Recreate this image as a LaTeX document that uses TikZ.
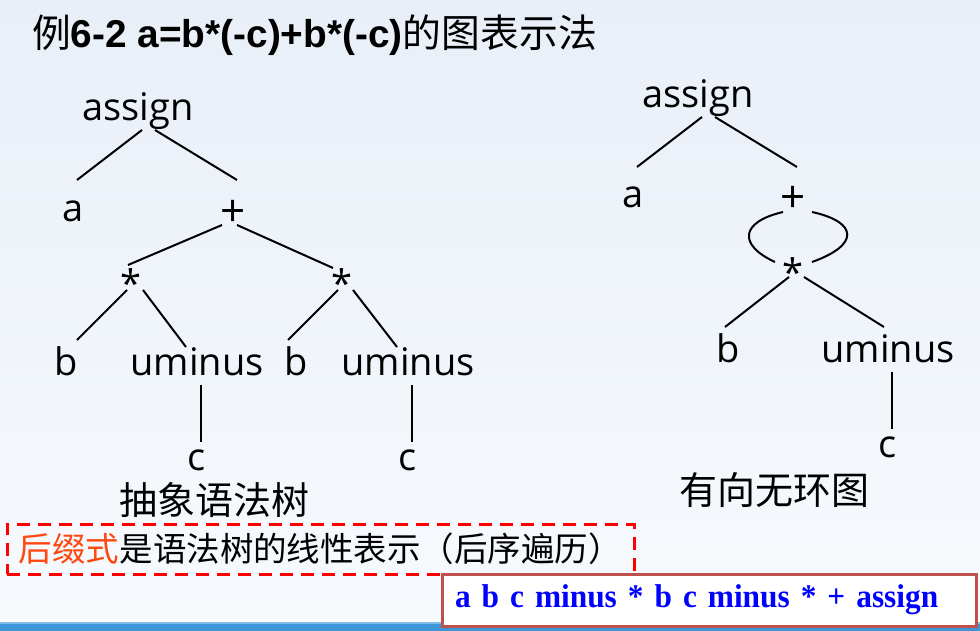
\documentclass[tikz,border=0pt]{standalone}
\usepackage{fontspec}
\setmainfont{Open Sans}
\newfontfamily\cjk{Noto Sans CJK SC}
\newfontfamily\arialbf{Liberation Sans}
\newfontfamily\timesbf{Liberation Serif}[FakeStretch=0.95]
\definecolor{bgtop}{RGB}{233,239,248}
\definecolor{bgbot}{RGB}{247,250,253}
\definecolor{stripe}{RGB}{62,150,214}
\definecolor{stripetop}{RGB}{125,188,232}
\definecolor{boxred}{RGB}{190,80,78}
\definecolor{hot}{RGB}{255,72,16}

\begin{document}
\begin{tikzpicture}[
    x = 1pt, y = -1pt, % one unit per pixel, y goes down
    line width = 2pt, % line style
    ]

    \tikzset{lbl/.style={inner sep=0pt, anchor=base, font=\fontsize{38}{40}\selectfont}}
    \tikzset{bigop/.style={lbl, font=\fontsize{44}{46}\selectfont}}
    \tikzset{treename/.style={inner sep=0pt, font=\cjk\fontsize{38}{40}\selectfont}}
    \tikzset{dashbox/.style={draw=red, line width=3pt, dash pattern=on 13pt off 8pt,
        minimum width=627pt, minimum height=50pt, inner sep=0pt,
        font=\cjk\fontsize{33.5}{36}\selectfont}}
    \tikzset{postbox/.style={draw=boxred, line width=3pt, fill=white,
        minimum width=534pt, minimum height=52pt, text width=508pt, align=left,
        inner xsep=13pt, inner ysep=0pt, text=blue,
        font=\timesbf\bfseries\fontsize{33}{35}\selectfont}}

    % slide background
    \useasboundingbox (0,0) rectangle (980,631);
    \shade[top color=bgtop, bottom color=bgbot] (0,0) rectangle (980,631);
    \fill[stripe] (0,622) rectangle (980,631);
    \fill[stripetop] (0,621.5) rectangle (980,623.5);

    \node[anchor=base west, inner sep=0pt, font=\fontsize{38.8}{40}\selectfont] (title) at (31,48)
        {{\cjk 例}{\arialbf\bfseries 6-2 a=b*(-c)+b*(-c)}{\cjk 的图表示法}};

    % syntax tree
    \node[lbl] (as1) at (138,121) {assign};
    \node[lbl] (a1) at (73,222) {a};
    \node[bigop] (p1) at (233,226) {+};
    \node[lbl] (m1) at (131,297) {*};
    \node[lbl] (m2) at (342,297) {*};
    \node[lbl] (b1) at (66,375) {b};
    \node[lbl] (u1) at (197,375) {uminus};
    \node[lbl] (b2) at (296,375) {b};
    \node[lbl] (u2) at (408,375) {uminus};
    \node[lbl] (c1) at (197,470) {c};
    \node[lbl] (c2) at (408,470) {c};
    \node[treename] (t1) at (214,500) {抽象语法树};

    \draw ([xshift=4pt,yshift=-9pt]as1.base) -- ([xshift=4pt,yshift=42pt]a1.base);
    \draw ([xshift=17pt,yshift=-9pt]as1.base) -- ([xshift=4pt,yshift=46pt]p1.base);
    \draw ([xshift=-11pt,yshift=1pt]p1.base) -- ([xshift=-3pt,yshift=32pt]m1.base);
    \draw ([xshift=4pt,yshift=1pt]p1.base) -- ([xshift=-9pt,yshift=29pt]m2.base);
    \draw ([xshift=-4pt,yshift=7pt]m1.base) -- ([xshift=11pt,yshift=35pt]b1.base);
    \draw ([xshift=12pt,yshift=7pt]m1.base) -- ([xshift=-11pt,yshift=28pt]u1.base);
    \draw ([xshift=-4pt,yshift=7pt]m2.base) -- ([xshift=-8pt,yshift=35pt]b2.base);
    \draw ([xshift=11pt,yshift=7pt]m2.base) -- ([xshift=-11pt,yshift=28pt]u2.base);
    \draw ([xshift=4pt,yshift=-10pt]u1.base) -- ([xshift=4pt,yshift=28pt]c1.base);
    \draw ([xshift=4pt,yshift=-10pt]u2.base) -- ([xshift=4pt,yshift=28pt]c2.base);

    % dag
    \node[lbl] (as2) at (698,108) {assign};
    \node[lbl] (a2) at (633,208) {a};
    \node[bigop] (p2) at (793,213) {+};
    \node[lbl] (m3) at (793,286) {*};
    \node[lbl] (b3) at (728,362) {b};
    \node[lbl] (u3) at (888,362) {uminus};
    \node[lbl] (c3) at (888,457) {c};
    \node[treename] (t2) at (774,490) {有向无环图};

    \draw ([xshift=4pt,yshift=-9pt]as2.base) -- ([xshift=4pt,yshift=41pt]a2.base);
    \draw ([xshift=17pt,yshift=-9pt]as2.base) -- ([xshift=4pt,yshift=46pt]p2.base);
    \draw ([xshift=-10pt,yshift=1pt]p2.base) .. controls +(-43,10) and +(-37,-17) .. ([xshift=-18pt,yshift=24pt]m3.base);
    \draw ([xshift=19pt,yshift=1pt]p2.base) .. controls +(46,10) and +(48,-17) .. ([xshift=19pt,yshift=24pt]m3.base);
    \draw ([xshift=-4pt,yshift=9pt]m3.base) -- ([xshift=-3pt,yshift=35pt]b3.base);
    \draw ([xshift=11pt,yshift=9pt]m3.base) -- ([xshift=-4pt,yshift=35pt]u3.base);
    \draw ([xshift=4pt,yshift=-10pt]u3.base) -- ([xshift=4pt,yshift=28pt]c3.base);

    % postfix notes
    \node[dashbox] (note) at (320.5,549) {{\color{hot}后缀式}是语法树的线性表示（后序遍历）};
    \node[postbox] (post) at (709,600) {a b c minus * b c minus * + assign};
\end{tikzpicture}
\end{document}
